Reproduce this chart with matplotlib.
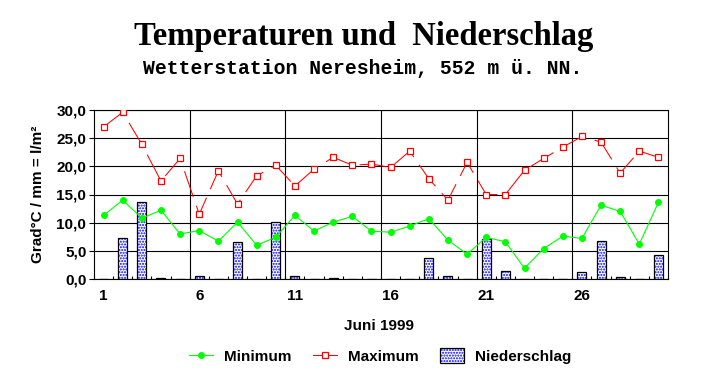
import matplotlib
matplotlib.use("Agg")
import matplotlib.pyplot as plt
from matplotlib.patches import Patch
from matplotlib.lines import Line2D

plt.rcParams['font.family'] = ['Liberation Sans', 'DejaVu Sans']

# Daten Juni 1999
tage = list(range(1, 31))
t_min = [11.3, 14.0, 10.8, 12.2, 8.0, 8.6, 6.7, 10.1, 6.0, 7.4,
         11.3, 8.5, 10.1, 11.1, 8.5, 8.3, 9.4, 10.7, 6.9, 4.4,
         7.4, 6.6, 1.9, 5.4, 7.6, 7.2, 13.1, 12.0, 6.2, 13.6]
t_max = [27.0, 29.6, 23.9, 17.4, 21.4, 11.5, 19.2, 13.3, 18.3, 20.2,
         16.5, 19.5, 21.6, 20.2, 20.4, 19.8, 22.7, 17.8, 14.0, 20.7,
         15.0, 15.0, 19.3, 21.4, 23.4, 25.3, 24.3, 18.8, 22.7, 21.6]
regen = [0, 7.2, 13.6, 0.2, 0, 0.5, 0, 6.6, 0, 10.2,
         0.5, 0, 0.2, 0, 0, 0, 0, 3.7, 0.5, 0,
         7.1, 1.4, 0, 0, 0, 1.2, 6.7, 0.3, 0, 4.3]
y_ticks = [0, 5, 10, 15, 20, 25, 30]
x_labels = [1, 6, 11, 16, 21, 26]

fig = plt.figure(figsize=(7.25, 3.84), dpi=100)
ax = fig.add_axes([94/725, 1-279/384, (668-94)/725, (279-110)/384])

# Balken (Niederschlag)
ax.bar(tage, regen, width=0.47, facecolor='white', edgecolor='blue',
       hatch='......', linewidth=0, zorder=2)
ax.bar(tage, regen, width=0.47, fill=False, edgecolor='black',
       linewidth=0.9, zorder=3)

# Temperaturen
ax.plot(tage, t_min, color='#00ff00', lw=0.8, marker='o', markersize=4,
        zorder=4)
ax.plot(tage, t_max, color='red', lw=0.75, linestyle=(0, (26, 9)),
        marker='s', markersize=4, mfc='white', mec='red', mew=0.9, zorder=4)

ax.set_xlim(0.5, 30.5)
ax.set_ylim(0, 30)
ax.set_yticks(y_ticks)
ax.set_yticklabels([f"{v:.1f}".replace('.', ',') for v in y_ticks],
                   fontsize=11, fontweight='bold')
ax.set_xticks(x_labels)
ax.set_xticklabels([str(v) for v in x_labels], fontsize=11, fontweight='bold')
ax.set_xticks([t + 0.5 for t in range(0, 31)], minor=True)
ax.tick_params(axis='x', which='major', length=0, pad=7)
ax.tick_params(axis='x', which='minor', direction='in', length=2.5, width=0.8)
ax.tick_params(axis='y', which='major', direction='out', length=3.5,
               width=0.8, pad=2)

ax.grid(axis='y', color='black', lw=0.8, zorder=1)
for g in [5.5, 10.5, 15.5, 20.5, 25.5]:
    ax.axvline(g, color='black', lw=0.8, zorder=1)
for s in ax.spines.values():
    s.set_linewidth(0.8)

ax.set_ylabel("Grad°C / mm = l/m²", fontsize=11, fontweight='bold',
              labelpad=8)

fig.text(0.502, 1-45/384, "Temperaturen und  Niederschlag",
         family='Liberation Serif', fontweight='bold', fontsize=23.5,
         ha='center', va='baseline')
fig.text(0.5, 1-74/384, "Wetterstation Neresheim, 552 m ü. NN.",
         family='Liberation Mono', fontweight='bold', fontsize=14.2,
         ha='center', va='baseline')
fig.text(379/725, 1-330/384, "Juni 1999", fontsize=11, fontweight='bold',
         ha='center', va='baseline')

h_min = Line2D([], [], color='#00ff00', lw=0.8, marker='o', markersize=4)
h_max = Line2D([], [], color='red', lw=0.75, marker='s', markersize=4,
               mfc='white', mec='red', mew=0.9)
h_reg = (Patch(facecolor='white', edgecolor='blue', hatch='......', lw=0),
         Patch(fill=False, edgecolor='black', lw=0.9))
fig.legend([h_min, h_max, h_reg], ["Minimum", "Maximum", "Niederschlag"],
           loc='center', bbox_to_anchor=(380/725, 1-356/384), ncol=3,
           frameon=False, prop={'size': 11, 'weight': 'bold'},
           handlelength=1.6, handleheight=1.1, handletextpad=0.7,
           columnspacing=1.4)

fig.savefig("out.png", dpi=100)
